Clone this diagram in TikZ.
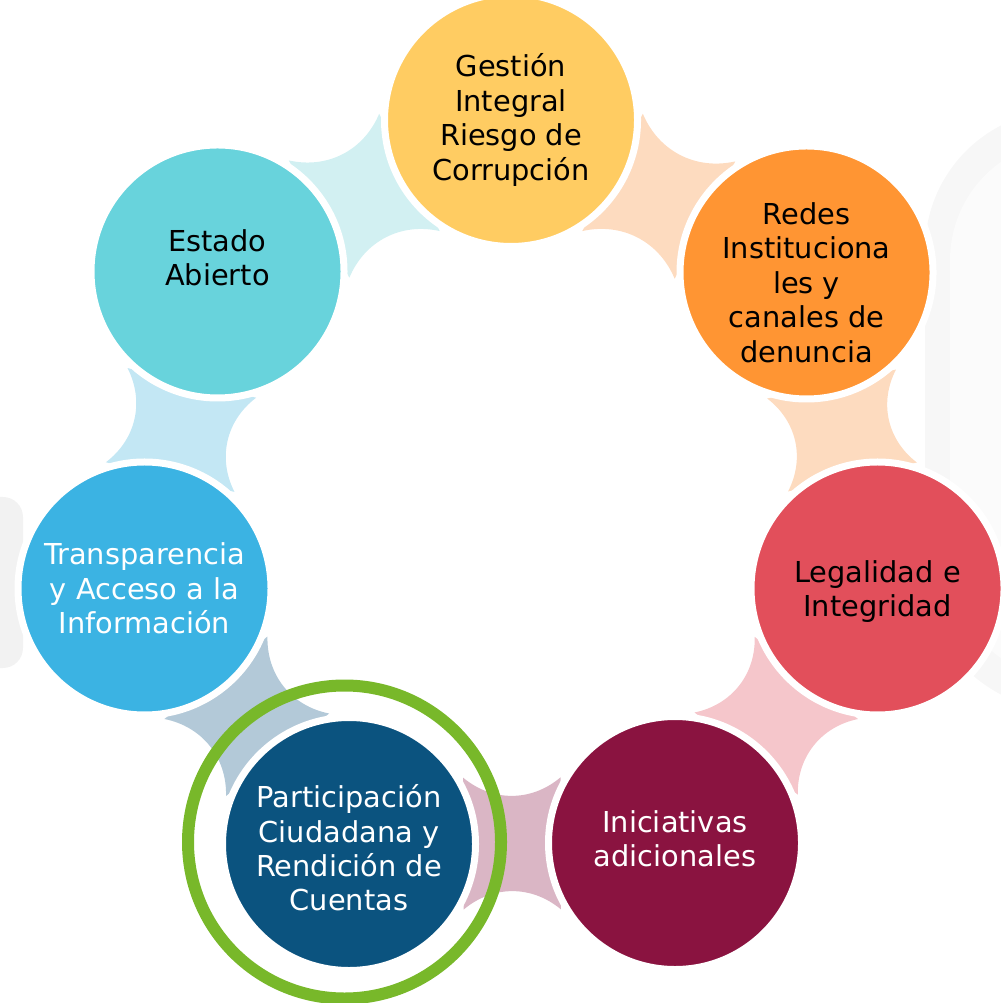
\documentclass[tikz,border=0pt]{standalone}
\usepackage{fontspec}
\setmainfont{DejaVu Sans}
\usetikzlibrary{calc,backgrounds}

\definecolor{gold}{HTML}{FFCC62}
\definecolor{tangerine}{HTML}{FF9533}
\definecolor{coral}{HTML}{E24F5B}
\definecolor{wine}{HTML}{8A1340}
\definecolor{navy}{HTML}{0B537F}
\definecolor{sky}{HTML}{3BB3E3}
\definecolor{aqua}{HTML}{68D3DC}
\definecolor{leaf}{HTML}{78B82A}
\definecolor{peach}{HTML}{FDDBBF}
\definecolor{rose}{HTML}{F5C6CB}
\definecolor{mauve}{HTML}{DAB6C5}
\definecolor{steel}{HTML}{B3C9D8}
\definecolor{ice}{HTML}{C3E7F4}
\definecolor{mint}{HTML}{D2F0F2}
\definecolor{haze}{HTML}{F7F7F7}
\definecolor{hazelight}{HTML}{FBFBFB}
\definecolor{mist}{HTML}{F2F2F2}

\tikzset{
    bubble/.style={circle, draw=white, line width=0.07cm, inner sep=0pt, minimum size=2.53cm},
    txt/.style={align=center, inner sep=0pt, font=\fontsize{8.2}{9.8}\selectfont},
}

\newcommand{\bridge}[3]{\fill[#3] ($(#1.center)!1.32cm!30:(#2.center)$) to[bend right=40] ($(#2.center)!1.32cm!-30:(#1.center)$) -- ($(#2.center)!1.32cm!30:(#1.center)$) to[bend right=40] ($(#1.center)!1.32cm!-30:(#2.center)$) -- cycle;}

\begin{document}
\begin{tikzpicture}
    \useasboundingbox (0,0) rectangle (10,-10.03);

    \node[bubble, fill=gold] (gestion) at (5.11,-1.20) {};
    \node[bubble, fill=tangerine] (redes) at (8.065,-2.725) {};
    \node[bubble, fill=coral] (legal) at (8.775,-5.885) {};
    \node[bubble, fill=wine] (inic) at (6.75,-8.43) {};
    \node[bubble, fill=navy] (partic) at (3.49,-8.44) {};
    \node[bubble, fill=sky] (transp) at (1.445,-5.885) {};
    \node[bubble, fill=aqua] (estado) at (2.175,-2.715) {};

    \node[circle, draw=leaf, line width=0.12cm, inner sep=0pt, minimum size=3.13cm] (ring) at (3.445,-8.42) {};

    \node[txt] (gestion-t) at (gestion) {Gestión\\Integral\\Riesgo de\\Corrupción};
    \node[txt] (redes-t) at ([yshift=-0.10cm]redes.center) {Redes\\Instituciona\\les y\\canales de\\denuncia};
    \node[txt] (legal-t) at ([yshift=-0.03cm]legal.center) {Legalidad e\\Integridad};
    \node[txt, text=white] (inic-t) at ([yshift=0.04cm]inic.center) {Iniciativas\\adicionales};
    \node[txt, text=white] (partic-t) at ([yshift=-0.04cm]partic.center) {Participación\\Ciudadana y\\Rendición de\\Cuentas};
    \node[txt, text=white] (transp-t) at (transp) {Transparencia\\y Acceso a la\\Información};
    \node[txt] (estado-t) at ([yshift=0.14cm]estado.center) {Estado\\Abierto};

    \begin{scope}[on background layer]
        \fill[haze, rounded corners=1.4cm] (9.25,-1.10) rectangle (12,-7.10);
        \fill[hazelight, rounded corners=1.2cm] (9.5,-1.40) rectangle (12,-6.80);
        \fill[mist, rounded corners=0.2cm] (-0.5,-4.97) rectangle (0.23,-6.68);
        \bridge{gestion}{redes}{peach}
        \bridge{redes}{legal}{peach}
        \bridge{legal}{inic}{rose}
        \bridge{inic}{partic}{mauve}
        \bridge{partic}{transp}{steel}
        \bridge{transp}{estado}{ice}
        \bridge{estado}{gestion}{mint}
    \end{scope}
\end{tikzpicture}
\end{document}
